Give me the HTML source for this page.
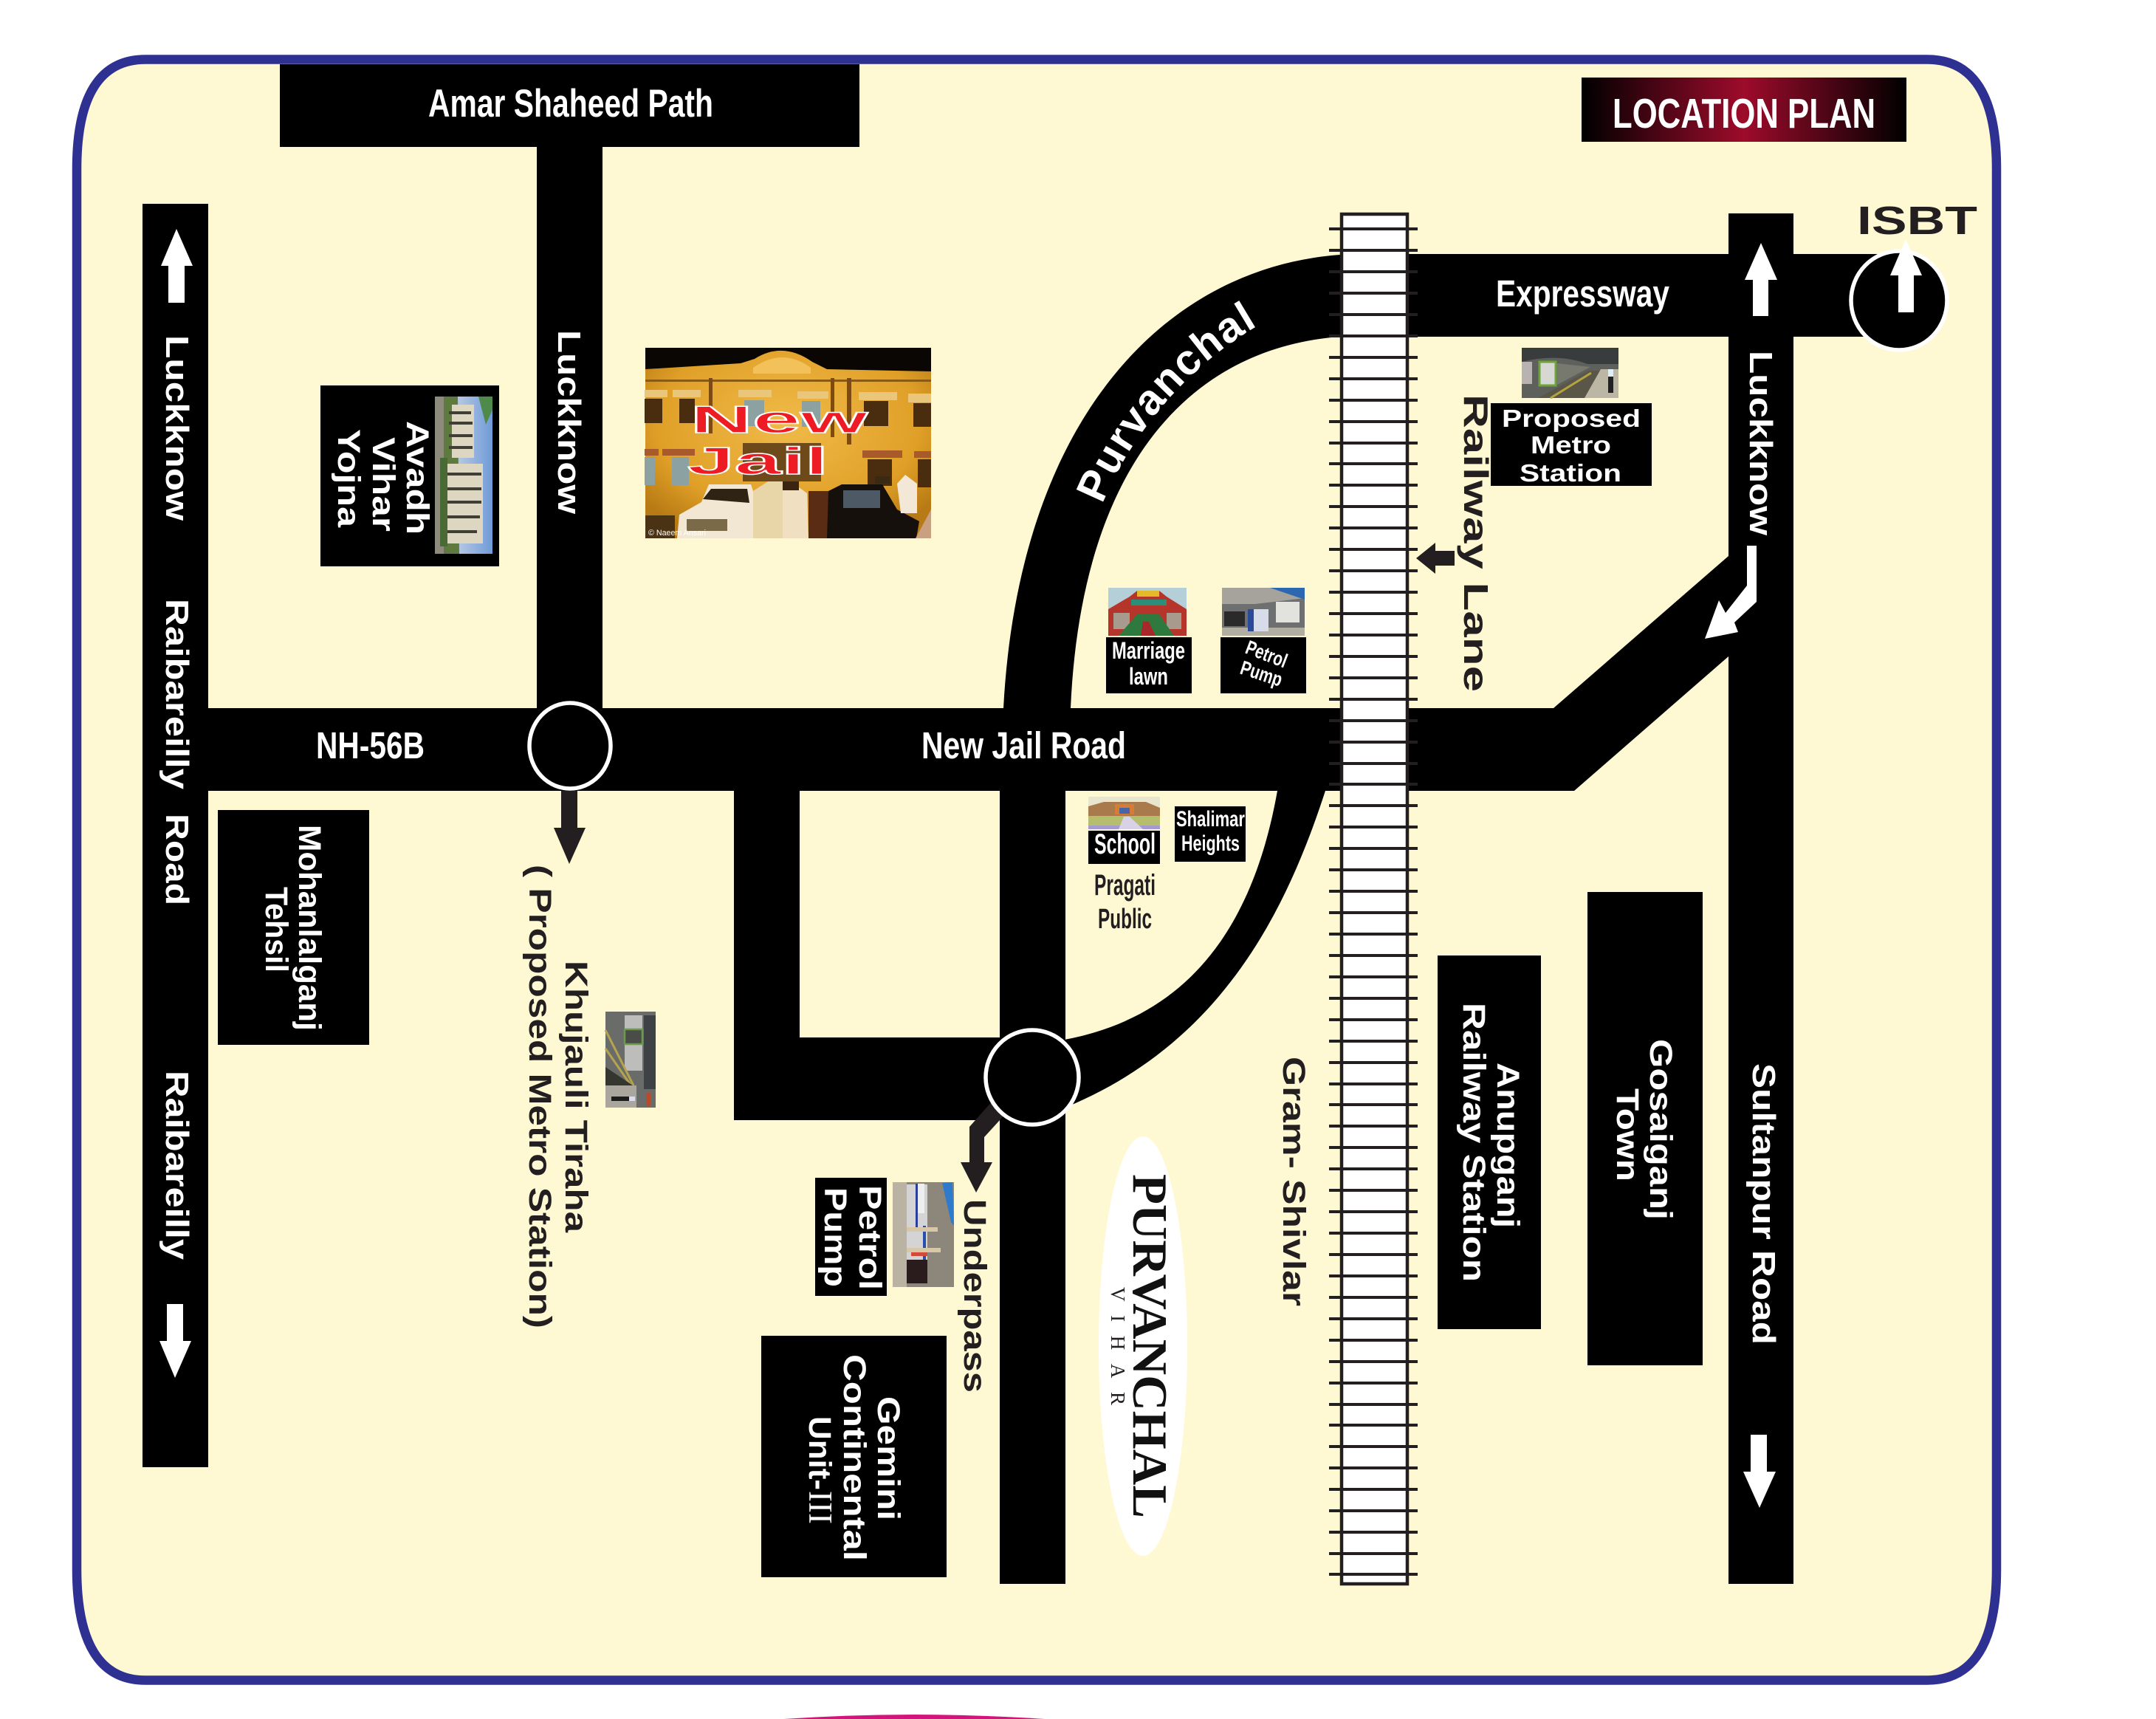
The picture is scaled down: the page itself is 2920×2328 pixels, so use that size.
<!DOCTYPE html>
<html><head><meta charset="utf-8"><title>Location Plan</title>
<style>
html,body{margin:0;padding:0;background:#fff;width:2920px;height:2328px;overflow:hidden}
svg{display:block}
text{font-family:"Liberation Sans",Arial,sans-serif}
.w{fill:#fff;font-weight:bold}
.d{fill:#231F20;font-weight:bold}
</style></head><body>
<svg width="2920" height="2328" viewBox="0 0 2920 2328" xmlns="http://www.w3.org/2000/svg">
<defs>
<linearGradient id="lp" x1="0" x2="1" y1="0" y2="0"><stop offset="0" stop-color="#000"/><stop offset=".5" stop-color="#9E0B2B"/><stop offset="1" stop-color="#000"/></linearGradient>
<linearGradient id="sky" x1="0" x2="1" y1="0" y2="0"><stop offset="0" stop-color="#e4e6ea"/><stop offset="1" stop-color="#6f9bd8"/></linearGradient>
<radialGradient id="jail" cx=".5" cy=".4" r=".65"><stop offset="0" stop-color="#F0BA48"/><stop offset=".7" stop-color="#E0A028"/><stop offset="1" stop-color="#B87A14"/></radialGradient>
</defs>

<!-- frame -->
<path d="M197,80.500H2610Q2704,80.500 2704,229V2125Q2704,2275.500 2610,2275.500H197Q104,2275.500 104,2125V229Q104,80.500 197,80.500Z" fill="#FEF9D3" stroke="#2E3192" stroke-width="12.500"/>
<path d="M1062,2328Q1238,2316 1415,2328Z" fill="#D4147E"/>

<!-- roads -->
<g fill="#000">
<rect x="379" y="87" width="785" height="112"/>
<rect x="727" y="199" width="89" height="800"/>
<rect x="193" y="276" width="89" height="1711"/>
<path d="M282,959H2104L2341,753V889L2132,1071H282Z"/>
<rect x="2341" y="289" width="88" height="1856"/>
<rect x="1815" y="344" width="740" height="112"/>
<path d="M1815,345C1580,362 1380,565 1359,959H1450C1465,620 1620,470 1815,456Z"/>
<rect x="1354" y="1071" width="89" height="1074"/>
<rect x="994" y="1071" width="89" height="446"/>
<rect x="994" y="1405" width="360" height="112"/>
<path d="M1730,1071C1700,1240 1620,1380 1430,1410L1430,1505C1650,1420 1740,1240 1795,1071Z"/>
</g>

<!-- track -->
<rect x="1817" y="290" width="89" height="1855" fill="#fff" stroke="#231F20" stroke-width="4.500"/>
<path stroke="#231F20" stroke-width="4" fill="none" d="M1800,310H1920M1800,339H1920M1800,368H1920M1800,397H1920M1800,426H1920M1800,455H1920M1800,484H1920M1800,513H1920M1800,542H1920M1800,571H1920M1800,600H1920M1800,628H1920M1800,657H1920M1800,686H1920M1800,715H1920M1800,744H1920M1800,773H1920M1800,802H1920M1800,831H1920M1800,860H1920M1800,889H1920M1800,918H1920M1800,947H1920M1800,976H1920M1800,1005H1920M1800,1034H1920M1800,1062H1920M1800,1091H1920M1800,1120H1920M1800,1149H1920M1800,1178H1920M1800,1207H1920M1800,1236H1920M1800,1265H1920M1800,1294H1920M1800,1323H1920M1800,1352H1920M1800,1381H1920M1800,1410H1920M1800,1439H1920M1800,1468H1920M1800,1496H1920M1800,1525H1920M1800,1554H1920M1800,1583H1920M1800,1612H1920M1800,1641H1920M1800,1670H1920M1800,1699H1920M1800,1728H1920M1800,1757H1920M1800,1786H1920M1800,1815H1920M1800,1844H1920M1800,1873H1920M1800,1902H1920M1800,1930H1920M1800,1959H1920M1800,1988H1920M1800,2017H1920M1800,2046H1920M1800,2075H1920M1800,2104H1920M1800,2132H1920"/>

<!-- dark arrows -->
<g fill="#231F20">
<path d="M760,1071H782V1121H793L771,1170L750,1121H760Z"/>
<path d="M1313,1526L1345,1490L1365,1505L1333,1540V1574H1344L1322,1615L1301,1574H1313Z"/>
<path d="M1918,756L1944,735V746H1970V766H1944V777Z"/>
</g>

<!-- circles -->
<ellipse cx="772" cy="1010" rx="55" ry="58" fill="#000" stroke="#fff" stroke-width="5.500"/>
<ellipse cx="1398" cy="1459" rx="63" ry="64" fill="#000" stroke="#fff" stroke-width="5.500"/>
<ellipse cx="2572" cy="407" rx="65" ry="67" fill="#000" stroke="#fff" stroke-width="5.500"/>

<!-- white arrows -->
<g fill="#fff">
<path d="M239,310L261,360H250V410H228V360H218Z"/>
<path d="M226,1766H248V1816H259L237,1866L216,1816H226Z"/>
<path d="M2385,329L2407,379H2395V428H2374V379H2363Z"/>
<path d="M2581,324L2603,373H2592V423H2571V373H2560Z"/>
<path d="M2371,1943H2393V1993H2405L2383,2042L2361,1993H2371Z"/>
<path d="M2366,739H2379V815L2349,843L2354,856L2309,865L2328,813L2337,830L2366,793Z"/>
</g>

<!-- boxes -->
<g fill="#000">
<rect x="434" y="522" width="242" height="245"/>
<rect x="295" y="1097" width="205" height="318"/>
<rect x="2019" y="546" width="218" height="112"/>
<rect x="1498" y="863" width="116" height="76"/>
<rect x="1653" y="863" width="116" height="76"/>
<rect x="1474" y="1125" width="97" height="45"/>
<rect x="1591" y="1092" width="96" height="75"/>
<rect x="1104" y="1595" width="97" height="160"/>
<rect x="1031" y="1809" width="251" height="327"/>
<rect x="1947" y="1294" width="140" height="506"/>
<rect x="2150" y="1208" width="156" height="641"/>
</g>
<rect x="2142" y="105" width="440" height="87" fill="url(#lp)"/>
<ellipse cx="1548" cy="1823" rx="60" ry="284" fill="#fff"/>

<!-- Avadh photo -->
<rect x="589" y="537" width="78" height="213" fill="url(#sky)"/>
<rect x="589" y="537" width="12" height="213" fill="#8e8a7c"/>
<path d="M601,537L620,537L622,750L601,750Z" fill="#5f7a3f"/>
<g fill="#ddd6c0"><rect x="612" y="548" width="30" height="72"/><rect x="606" y="628" width="48" height="108"/></g>
<path d="M608,559H638M608,573H640M608,590H640M608,606H640M604,642H652M604,662H652M604,680H652M604,700H650M604,720H646" stroke="#3f3f36" stroke-width="4"/>
<path d="M648,537H667V555L658,575Z" fill="#4f8a4a"/>
<rect x="596" y="620" width="10" height="120" fill="#4a6a35"/>

<!-- New Jail photo -->
<g>
<rect x="874" y="471" width="387" height="258" fill="url(#jail)"/>
<path d="M874,471H1261V503L1120,500L1100,490Q1060,462 1022,486L1003,492L874,500Z" fill="#0a0604"/>
<path d="M1020,498Q1060,470 1098,498V506H1020Z" fill="#F2C15A"/>
<rect x="874" y="514" width="387" height="3" fill="#8a5a10"/>
<g fill="#4a2c0e"><rect x="873" y="540" width="24" height="33"/><rect x="920" y="540" width="21" height="33"/><rect x="1170" y="543" width="33" height="34"/><rect x="1237" y="546" width="24" height="32"/><rect x="1175" y="622" width="33" height="36"/><rect x="1243" y="622" width="18" height="38"/></g>
<g fill="#8CA2A2"><rect x="1008" y="542" width="27" height="35"/><rect x="1086" y="543" width="25" height="35"/><rect x="873" y="619" width="14" height="38"/><rect x="910" y="619" width="23" height="38"/></g>
<g fill="#E9C679"><rect x="873" y="528" width="31" height="10"/><rect x="911" y="528" width="38" height="10"/><rect x="1000" y="528" width="45" height="10"/><rect x="1080" y="530" width="42" height="10"/><rect x="1163" y="531" width="52" height="11"/><rect x="1230" y="533" width="31" height="12"/></g>
<g fill="#A85A2A"><rect x="873" y="608" width="19" height="9"/><rect x="897" y="608" width="44" height="9"/><rect x="1168" y="610" width="54" height="10"/><rect x="1238" y="611" width="23" height="9"/></g>
<g fill="#7d4a12"><rect x="960" y="512" width="5" height="75"/><rect x="1125" y="512" width="5" height="80"/><rect x="1147" y="512" width="6" height="90"/></g>
<rect x="1006" y="600" width="106" height="52" fill="#6E4A1A"/>
<rect x="874" y="698" width="40" height="31" fill="#4a3314"/>
<path d="M917,729L920,697L950,680L960,656H1017L1027,686V729Z" fill="#F1E7D2"/>
<path d="M952,676L963,662H1012L1015,681Z" fill="#2f2414"/>
<rect x="930" y="703" width="55" height="16" fill="#7a6a48"/>
<path d="M1020,729V665L1040,652H1060V729Z" fill="#E8D6A8"/>
<path d="M1060,729V660H1082L1093,668L1095,729Z" fill="#F0DFC0"/>
<path d="M1095,729V665H1122V729Z" fill="#5a2c14"/>
<rect x="1060" y="652" width="22" height="12" fill="#3a2410"/>
<path d="M1120,729L1122,665L1140,656H1195L1215,690L1245,706L1241,729Z" fill="#15100c"/>
<rect x="1142" y="664" width="50" height="24" fill="#4d5a66"/>
<path d="M1215,655L1226,643L1242,655V695L1220,695Z" fill="#F3E7D8"/>
<path d="M1240,729L1261,690V729Z" fill="#c9a080"/>
<rect x="1185" y="645" width="20" height="10" fill="#3a2a14"/>
<text x="878" y="725" font-size="11" fill="#fff" textLength="78" lengthAdjust="spacingAndGlyphs">© Naeem Ansari</text>
</g>
<g font-family="Liberation Sans" font-weight="bold" fill="#ED1C24" stroke="#fff" stroke-width="1.500">
<text x="935" y="586" font-size="52" textLength="240" lengthAdjust="spacingAndGlyphs">New</text>
<text x="931" y="642" font-size="52" textLength="191" lengthAdjust="spacingAndGlyphs">Jail</text>
</g>

<!-- Metro photo -->
<rect x="2061" y="471" width="131" height="68" fill="#5e605c"/>
<path d="M2061,471H2192V493H2150Q2110,478 2061,490Z" fill="#383c3c"/>
<rect x="2061" y="490" width="14" height="30" fill="#b8b2b2"/>
<path d="M2085,490H2107V522H2085Z" fill="#d7d7d3" stroke="#6fa33c" stroke-width="3"/>
<path d="M2109,492L2154,497L2109,521Z" fill="#77786e"/>
<path d="M2083,539L2152,502H2172L2146,539Z" fill="#5a5648"/>
<path d="M2100,539L2155,505" stroke="#B5A33D" stroke-width="3"/>
<path d="M2146,539L2168,500H2192V539Z" fill="#bcb6a4"/>
<rect x="2178" y="500" width="7" height="10" fill="#e2eef6"/><rect x="2178" y="510" width="7" height="22" fill="#222"/>

<!-- Marriage photo -->
<rect x="1501" y="796" width="106" height="65" fill="#b5cfd9"/>
<path d="M1501,861V825L1530,808L1540,800H1570L1580,808L1607,825V861Z" fill="#B5352A"/>
<path d="M1508,830H1530V852H1508ZM1580,830H1600V852H1580Z" fill="#a89b8e"/>
<path d="M1515,861L1540,832H1570L1590,861Z" fill="#2E7A3E"/>
<path d="M1545,861L1548,842H1556L1565,861Z" fill="#A7272A"/>
<path d="M1532,812H1580V820H1532Z" fill="#2C8F7A"/>
<path d="M1540,800H1570V808H1540Z" fill="#E5B92A"/>

<!-- Petrol photo -->
<rect x="1655" y="796" width="112" height="65" fill="#6e6f70"/>
<path d="M1655,796H1767V810L1700,818H1655Z" fill="#a5a39c"/>
<path d="M1720,796H1767V812Z" fill="#2c68b0"/>
<rect x="1655" y="850" width="112" height="11" fill="#b3aea2"/>
<rect x="1690" y="825" width="28" height="30" fill="#d7dcea"/><rect x="1690" y="825" width="8" height="30" fill="#2a4b99"/>
<rect x="1728" y="815" width="32" height="28" fill="#e3e3de"/>
<rect x="1658" y="828" width="28" height="20" fill="#2a2a2a"/>

<!-- School photo -->
<rect x="1474" y="1079" width="97" height="44" fill="#e9e6d0"/>
<path d="M1474,1092L1495,1086H1552L1571,1094V1105H1474Z" fill="#A87A4C"/>
<rect x="1510" y="1089" width="26" height="14" fill="#D57C36"/><rect x="1516" y="1094" width="14" height="8" fill="#4a64a8"/>
<path d="M1474,1105H1571V1123H1474Z" fill="#B6BE6E"/>
<path d="M1474,1118H1571V1123H1474Z" fill="#A49BD0"/>
<path d="M1515,1123L1522,1106H1530L1548,1123Z" fill="#d8d2e6"/>

<!-- Khujauli photo -->
<rect x="820" y="1370" width="68" height="130" fill="#6a6c6a"/>
<rect x="846" y="1375" width="24" height="75" fill="#bdbebb"/>
<rect x="846" y="1394" width="24" height="20" fill="#4a4c48" stroke="#6b9a4c" stroke-width="2.500"/>
<path d="M820,1395L858,1470M820,1420L858,1475" stroke="#B5A34d" stroke-width="3"/>
<path d="M820,1445L860,1472L820,1470Z" fill="#35362f"/>
<path d="M820,1470H862V1500H820Z" fill="#aaa69e"/>
<rect x="828" y="1485" width="24" height="6" fill="#1c1c1c"/><rect x="852" y="1485" width="8" height="6" fill="#dde"/>
<rect x="875" y="1480" width="6" height="18" fill="#b64a2a"/>
<rect x="872" y="1375" width="16" height="100" fill="#3f4244"/>

<!-- Lower petrol photo -->
<rect x="1209" y="1601" width="83" height="142" fill="#8d877b"/>
<rect x="1209" y="1601" width="19" height="142" fill="#bab2a2"/>
<rect x="1228" y="1604" width="28" height="130" fill="#d4d4d4"/>
<path d="M1276,1602L1290,1601L1292,1660L1288,1655Z" fill="#2F7BCB"/>
<rect x="1240" y="1603" width="12" height="40" fill="#eee"/>
<rect x="1240" y="1603" width="3" height="60" fill="#2a3f9a"/>
<rect x="1250" y="1660" width="4" height="50" fill="#2a4fa8"/>
<path d="M1228,1662H1270V1668H1228ZM1228,1690H1274V1696H1228Z" fill="#d8c8a8"/>
<rect x="1228" y="1706" width="28" height="32" fill="#2a1c1c"/>
<rect x="1234" y="1696" width="22" height="5" fill="#D24A3A"/>

<!-- white road labels -->
<g>
<text class="w" x="580" y="158" font-size="53" textLength="386" lengthAdjust="spacingAndGlyphs">Amar Shaheed Path</text>
<text class="w" x="2184" y="173" font-size="57" textLength="356" lengthAdjust="spacingAndGlyphs">LOCATION PLAN</text>
<text class="w" x="2026" y="415" font-size="51" textLength="235" lengthAdjust="spacingAndGlyphs">Expressway</text>
<text class="w" x="428" y="1027" font-size="51" textLength="147" lengthAdjust="spacingAndGlyphs">NH-56B</text>
<text class="w" x="1248" y="1027" font-size="51" textLength="277" lengthAdjust="spacingAndGlyphs">New Jail Road</text>

<text class="w" transform="translate(225,454) rotate(90)" font-size="43.500" textLength="251" lengthAdjust="spacingAndGlyphs">Luckknow</text>
<text class="w" transform="translate(225,811) rotate(90)" font-size="43.500" textLength="258" lengthAdjust="spacingAndGlyphs">Raibareilly</text>
<text class="w" transform="translate(225,1102) rotate(90)" font-size="43.500" textLength="124" lengthAdjust="spacingAndGlyphs">Road</text>
<text class="w" transform="translate(225,1450) rotate(90)" font-size="43.500" textLength="256" lengthAdjust="spacingAndGlyphs">Raibareilly</text>
<text class="w" transform="translate(756,447) rotate(90)" font-size="43.500" textLength="249" lengthAdjust="spacingAndGlyphs">Luckknow</text>
<text class="w" transform="translate(2370,475) rotate(90)" font-size="43.500" textLength="250" lengthAdjust="spacingAndGlyphs">Luckknow</text>
<text class="w" transform="translate(2374,1440) rotate(90)" font-size="43.500" textLength="381" lengthAdjust="spacingAndGlyphs">Sultanpur Road</text>

<text class="w" transform="translate(551,570) rotate(90)" font-size="43" textLength="154" lengthAdjust="spacingAndGlyphs">Avadh</text>
<text class="w" transform="translate(505,592) rotate(90)" font-size="43" textLength="128" lengthAdjust="spacingAndGlyphs">Vihar</text>
<text class="w" transform="translate(458,581) rotate(90)" font-size="43" textLength="133" lengthAdjust="spacingAndGlyphs">Yojna</text>

<text class="w" transform="translate(405,1117) rotate(90)" font-size="43" textLength="279" lengthAdjust="spacingAndGlyphs">Mohanlalganj</text>
<text class="w" transform="translate(360,1201) rotate(90)" font-size="43" textLength="116" lengthAdjust="spacingAndGlyphs">Tehsil</text>

<text class="w" x="2034" y="578" font-size="33" textLength="188" lengthAdjust="spacingAndGlyphs">Proposed</text>
<text class="w" x="2073" y="614" font-size="33" textLength="109" lengthAdjust="spacingAndGlyphs">Metro</text>
<text class="w" x="2058" y="652" font-size="33" textLength="138" lengthAdjust="spacingAndGlyphs">Station</text>

<text class="w" x="1506" y="892" font-size="32" textLength="99" lengthAdjust="spacingAndGlyphs">Marriage</text>
<text class="w" x="1529" y="927" font-size="32" textLength="53" lengthAdjust="spacingAndGlyphs">lawn</text>
<text class="w" transform="translate(1685,884) rotate(21)" font-size="27" textLength="58" lengthAdjust="spacingAndGlyphs">Petrol</text>
<text class="w" transform="translate(1678,912) rotate(18)" font-size="27" textLength="58" lengthAdjust="spacingAndGlyphs">Pump</text>

<text class="w" x="1482" y="1156" font-size="39" textLength="83" lengthAdjust="spacingAndGlyphs">School</text>
<text class="w" x="1593" y="1119" font-size="30" textLength="93" lengthAdjust="spacingAndGlyphs">Shalimar</text>
<text class="w" x="1600" y="1152" font-size="30" textLength="79" lengthAdjust="spacingAndGlyphs">Heights</text>

<text class="w" transform="translate(1164,1605) rotate(90)" font-size="43" textLength="142" lengthAdjust="spacingAndGlyphs">Petrol</text>
<text class="w" transform="translate(1117,1608) rotate(90)" font-size="43" textLength="135" lengthAdjust="spacingAndGlyphs">Pump</text>

<text class="w" transform="translate(1189,1891) rotate(90)" font-size="43" textLength="168" lengthAdjust="spacingAndGlyphs">Gemini</text>
<text class="w" transform="translate(1143,1834) rotate(90)" font-size="43" textLength="280" lengthAdjust="spacingAndGlyphs">Continental</text>
<text class="w" transform="translate(1096,1918) rotate(90)" font-size="43" textLength="100" lengthAdjust="spacingAndGlyphs">Unit-</text>
<text transform="translate(1096,2019) rotate(90)" fill="#fff" style="font-family:'Liberation Serif',serif" font-size="45" textLength="45" lengthAdjust="spacingAndGlyphs">III</text>

<text class="w" transform="translate(2028,1439) rotate(90)" font-size="43" textLength="224" lengthAdjust="spacingAndGlyphs">Anupganj</text>
<text class="w" transform="translate(1982,1358) rotate(90)" font-size="43" textLength="378" lengthAdjust="spacingAndGlyphs">Railway Station</text>
<text class="w" transform="translate(2235,1407) rotate(90)" font-size="43" textLength="245" lengthAdjust="spacingAndGlyphs">Gosaiganj</text>
<text class="w" transform="translate(2190,1474) rotate(90)" font-size="43" textLength="126" lengthAdjust="spacingAndGlyphs">Town</text>
</g>

<path id="pv" d="M1493,683C1530,590 1610,490 1720,432" fill="none"/>
<text class="w" font-size="58" letter-spacing="1.500"><textPath href="#pv">Purvanchal</textPath></text>

<!-- dark labels -->
<text class="d" x="2515" y="317" font-size="54" textLength="163" lengthAdjust="spacingAndGlyphs">ISBT</text>
<text class="d" transform="translate(1983,534) rotate(90)" font-size="46" textLength="403" lengthAdjust="spacingAndGlyphs">Railway Lane</text>
<text class="d" transform="translate(766,1301) rotate(90)" font-size="43" textLength="368" lengthAdjust="spacingAndGlyphs">Khujauli Tiraha</text>
<text class="d" transform="translate(717,1171) rotate(90)" font-size="43" textLength="628" lengthAdjust="spacingAndGlyphs">( Proposed Metro Station)</text>
<text class="d" transform="translate(1306,1624) rotate(90)" font-size="43" textLength="262" lengthAdjust="spacingAndGlyphs">Underpass</text>
<text class="d" transform="translate(1738,1431) rotate(90)" font-size="43" textLength="338" lengthAdjust="spacingAndGlyphs">Gram- Shivlar</text>
<text class="d" x="1482" y="1212" font-size="40" textLength="83" lengthAdjust="spacingAndGlyphs">Pragati</text>
<text class="d" x="1487" y="1257" font-size="38" textLength="73" lengthAdjust="spacingAndGlyphs">Public</text>

<text transform="translate(1535,1590) rotate(90)" style="font-family:'Liberation Serif',serif;font-weight:bold" fill="#111" font-size="67" textLength="466" lengthAdjust="spacingAndGlyphs">PURVANCHAL</text>
<text transform="translate(1505,1743) rotate(90)" style="font-family:'Liberation Serif',serif" fill="#231F20" font-size="27" textLength="160" lengthAdjust="spacing">VIHAR</text>
</svg>
</body></html>
